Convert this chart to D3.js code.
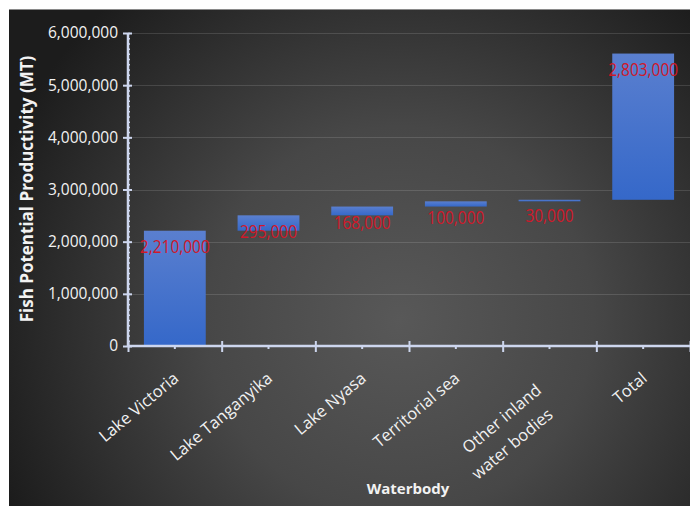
<!DOCTYPE html>
<html>
<head>
<meta charset="utf-8">
<script src="https://cdn.jsdelivr.net/npm/d3@7"></script>
<style>
  html, body { margin: 0; padding: 0; background: #ffffff; }
  svg { display: block; }
</style>
</head>
<body>
<div id="chart"></div>
<script>
// ---- data ----
const categories = ["Lake Victoria", "Lake Tanganyika", "Lake Nyasa", "Territorial sea", "Other inland\nwater bodies", "Total"];
const values = [2210000, 295000, 168000, 100000, 30000, 2803000];
const bases = [0, 2210000, 2505000, 2673000, 2773000, 2803000];
const yTickValues = [0, 1000000, 2000000, 3000000, 4000000, 5000000, 6000000];
const yTitle = "Fish Potential Productivity (MT)";
const xTitle = "Waterbody";

// ---- layout ----
const W = 690, H = 506;
const plot = { left: 128, right: 690, top: 33, bottom: 346 };
const fontMain = "'Open Sans', 'Liberation Sans', sans-serif";

const svg = d3.select("#chart").append("svg")
  .attr("width", W).attr("height", H);

const defs = svg.append("defs");
const bg = defs.append("radialGradient").attr("id", "bgGrad")
  .attr("gradientUnits", "userSpaceOnUse")
  .attr("cx", 400).attr("cy", 320).attr("r", 430);
bg.append("stop").attr("offset", "0%").attr("stop-color", "#585858");
bg.append("stop").attr("offset", "45%").attr("stop-color", "#474747");
bg.append("stop").attr("offset", "100%").attr("stop-color", "#1c1c1c");

const barGrad = defs.append("linearGradient").attr("id", "barGrad")
  .attr("x1", 0).attr("y1", 0).attr("x2", 0).attr("y2", 1);
barGrad.append("stop").attr("offset", "0%").attr("stop-color", "#5a7fcf");
barGrad.append("stop").attr("offset", "100%").attr("stop-color", "#3568c9");

// background
svg.append("rect").attr("x", 9).attr("y", 9).attr("width", W - 9).attr("height", H - 9)
  .attr("fill", "url(#bgGrad)");
svg.append("line").attr("x1", 9).attr("x2", W).attr("y1", 9.5).attr("y2", 9.5)
  .attr("stroke", "#8a8a8a").attr("stroke-width", 1);

// scales
const y = d3.scaleLinear().domain([0, 6000000]).range([plot.bottom, plot.top]);
const x = d3.scaleBand().domain(categories).range([plot.left, plot.right])
  .paddingInner(0.34).paddingOuter(0.17);
const xb = d3.scaleLinear().domain([0, categories.length]).range([plot.left, plot.right]);

// gridlines
svg.append("g").selectAll("line").data(yTickValues.filter(d => d > 0)).join("line")
  .attr("x1", plot.left).attr("x2", plot.right)
  .attr("y1", d => Math.round(y(d)) + 0.5).attr("y2", d => Math.round(y(d)) + 0.5)
  .attr("stroke", "rgba(255,255,255,0.13)").attr("stroke-width", 1);

// bars
const rows = categories.map((c, i) => ({ c, v: values[i], b: bases[i] }));
svg.append("g").selectAll("rect").data(rows).join("rect")
  .attr("x", d => x(d.c))
  .attr("width", x.bandwidth())
  .attr("y", d => y(d.b + d.v))
  .attr("height", d => y(d.b) - y(d.b + d.v))
  .attr("fill", "url(#barGrad)");

// data labels
const fmt = d3.format(",");
svg.append("g").selectAll("text").data(rows).join("text")
  .attr("transform", d => `translate(${x(d.c) + x.bandwidth() / 2},${y(d.b + d.v) + 22.5}) scale(0.86,1.05)`)
  .attr("text-anchor", "middle")
  .attr("font-family", fontMain)
  .attr("font-size", 18)
  .attr("fill", "#d0182a")
  .text(d => fmt(d.v));

// y axis
const axisColor = "#cdd6ee";
const yMinor = svg.append("g").attr("transform", `translate(${plot.left},0)`)
  .call(d3.axisRight(y).tickValues(d3.range(0, 6000001, 100000)).tickSize(2).tickFormat(""));
yMinor.select(".domain").remove();
yMinor.selectAll("line").attr("stroke", axisColor).attr("stroke-width", 1.5);

const yAxis = svg.append("g").attr("transform", `translate(${plot.left},0)`)
  .call(d3.axisLeft(y).tickValues(yTickValues).tickFormat(fmt).tickSize(4).tickPadding(6));
yAxis.select(".domain").attr("stroke", axisColor).attr("stroke-width", 2.5)
  .attr("d", `M0,${plot.bottom}V${plot.top}`);
yAxis.selectAll(".tick line").attr("x1", 4).attr("x2", -5)
  .attr("stroke", axisColor).attr("stroke-width", 2);
yAxis.selectAll(".tick text").attr("fill", "#f2f2f2")
  .attr("font-family", fontMain).attr("font-size", 15.5);

// x axis: boundary ticks
const xAxisB = svg.append("g").attr("transform", `translate(0,${plot.bottom})`)
  .call(d3.axisBottom(xb).ticks(categories.length).tickFormat("").tickSize(5));
xAxisB.select(".domain").attr("stroke", axisColor).attr("stroke-width", 2.5)
  .attr("d", `M${plot.left},0H${plot.right}`);
xAxisB.selectAll(".tick line").attr("y1", -5).attr("y2", 6)
  .attr("stroke", axisColor).attr("stroke-width", 2);

// x axis: category centre minor ticks + labels
const xAxis = svg.append("g").attr("transform", `translate(0,${plot.bottom})`)
  .call(d3.axisBottom(x).tickSize(3).tickFormat(""));
xAxis.select(".domain").remove();
xAxis.selectAll(".tick line").attr("stroke", axisColor).attr("stroke-width", 2);

const labelG = svg.append("g");
categories.forEach(c => {
  const lines = c.split("\n");
  const shift = (lines.length - 1) * 14;
  const t = labelG.append("text")
    .attr("transform", `translate(${x(c) + x.bandwidth() / 2 + 5 - shift * 0.85},${plot.bottom + 34 + shift * 0.85}) rotate(-40)`)
    .attr("text-anchor", "end")
    .attr("font-family", fontMain)
    .attr("font-size", 16.5)
    .attr("fill", "#f2f2f2");
  lines.forEach((ln, i) => {
    t.append("tspan").attr("x", i === 0 ? 0 : -7).attr("dy", i === 0 ? 0 : 26).text(ln);
  });
});

// axis titles
svg.append("text")
  .attr("transform", `translate(33,189) rotate(-90)`)
  .attr("text-anchor", "middle")
  .attr("font-family", fontMain)
  .attr("font-weight", "bold")
  .attr("font-size", 17)
  .attr("fill", "#f2f2f2")
  .text(yTitle);

svg.append("text")
  .attr("x", 408).attr("y", 494)
  .attr("text-anchor", "middle")
  .attr("font-family", fontMain)
  .attr("font-weight", "bold")
  .attr("font-size", 15)
  .attr("fill", "#f2f2f2")
  .text(xTitle);
</script>
</body>
</html>
